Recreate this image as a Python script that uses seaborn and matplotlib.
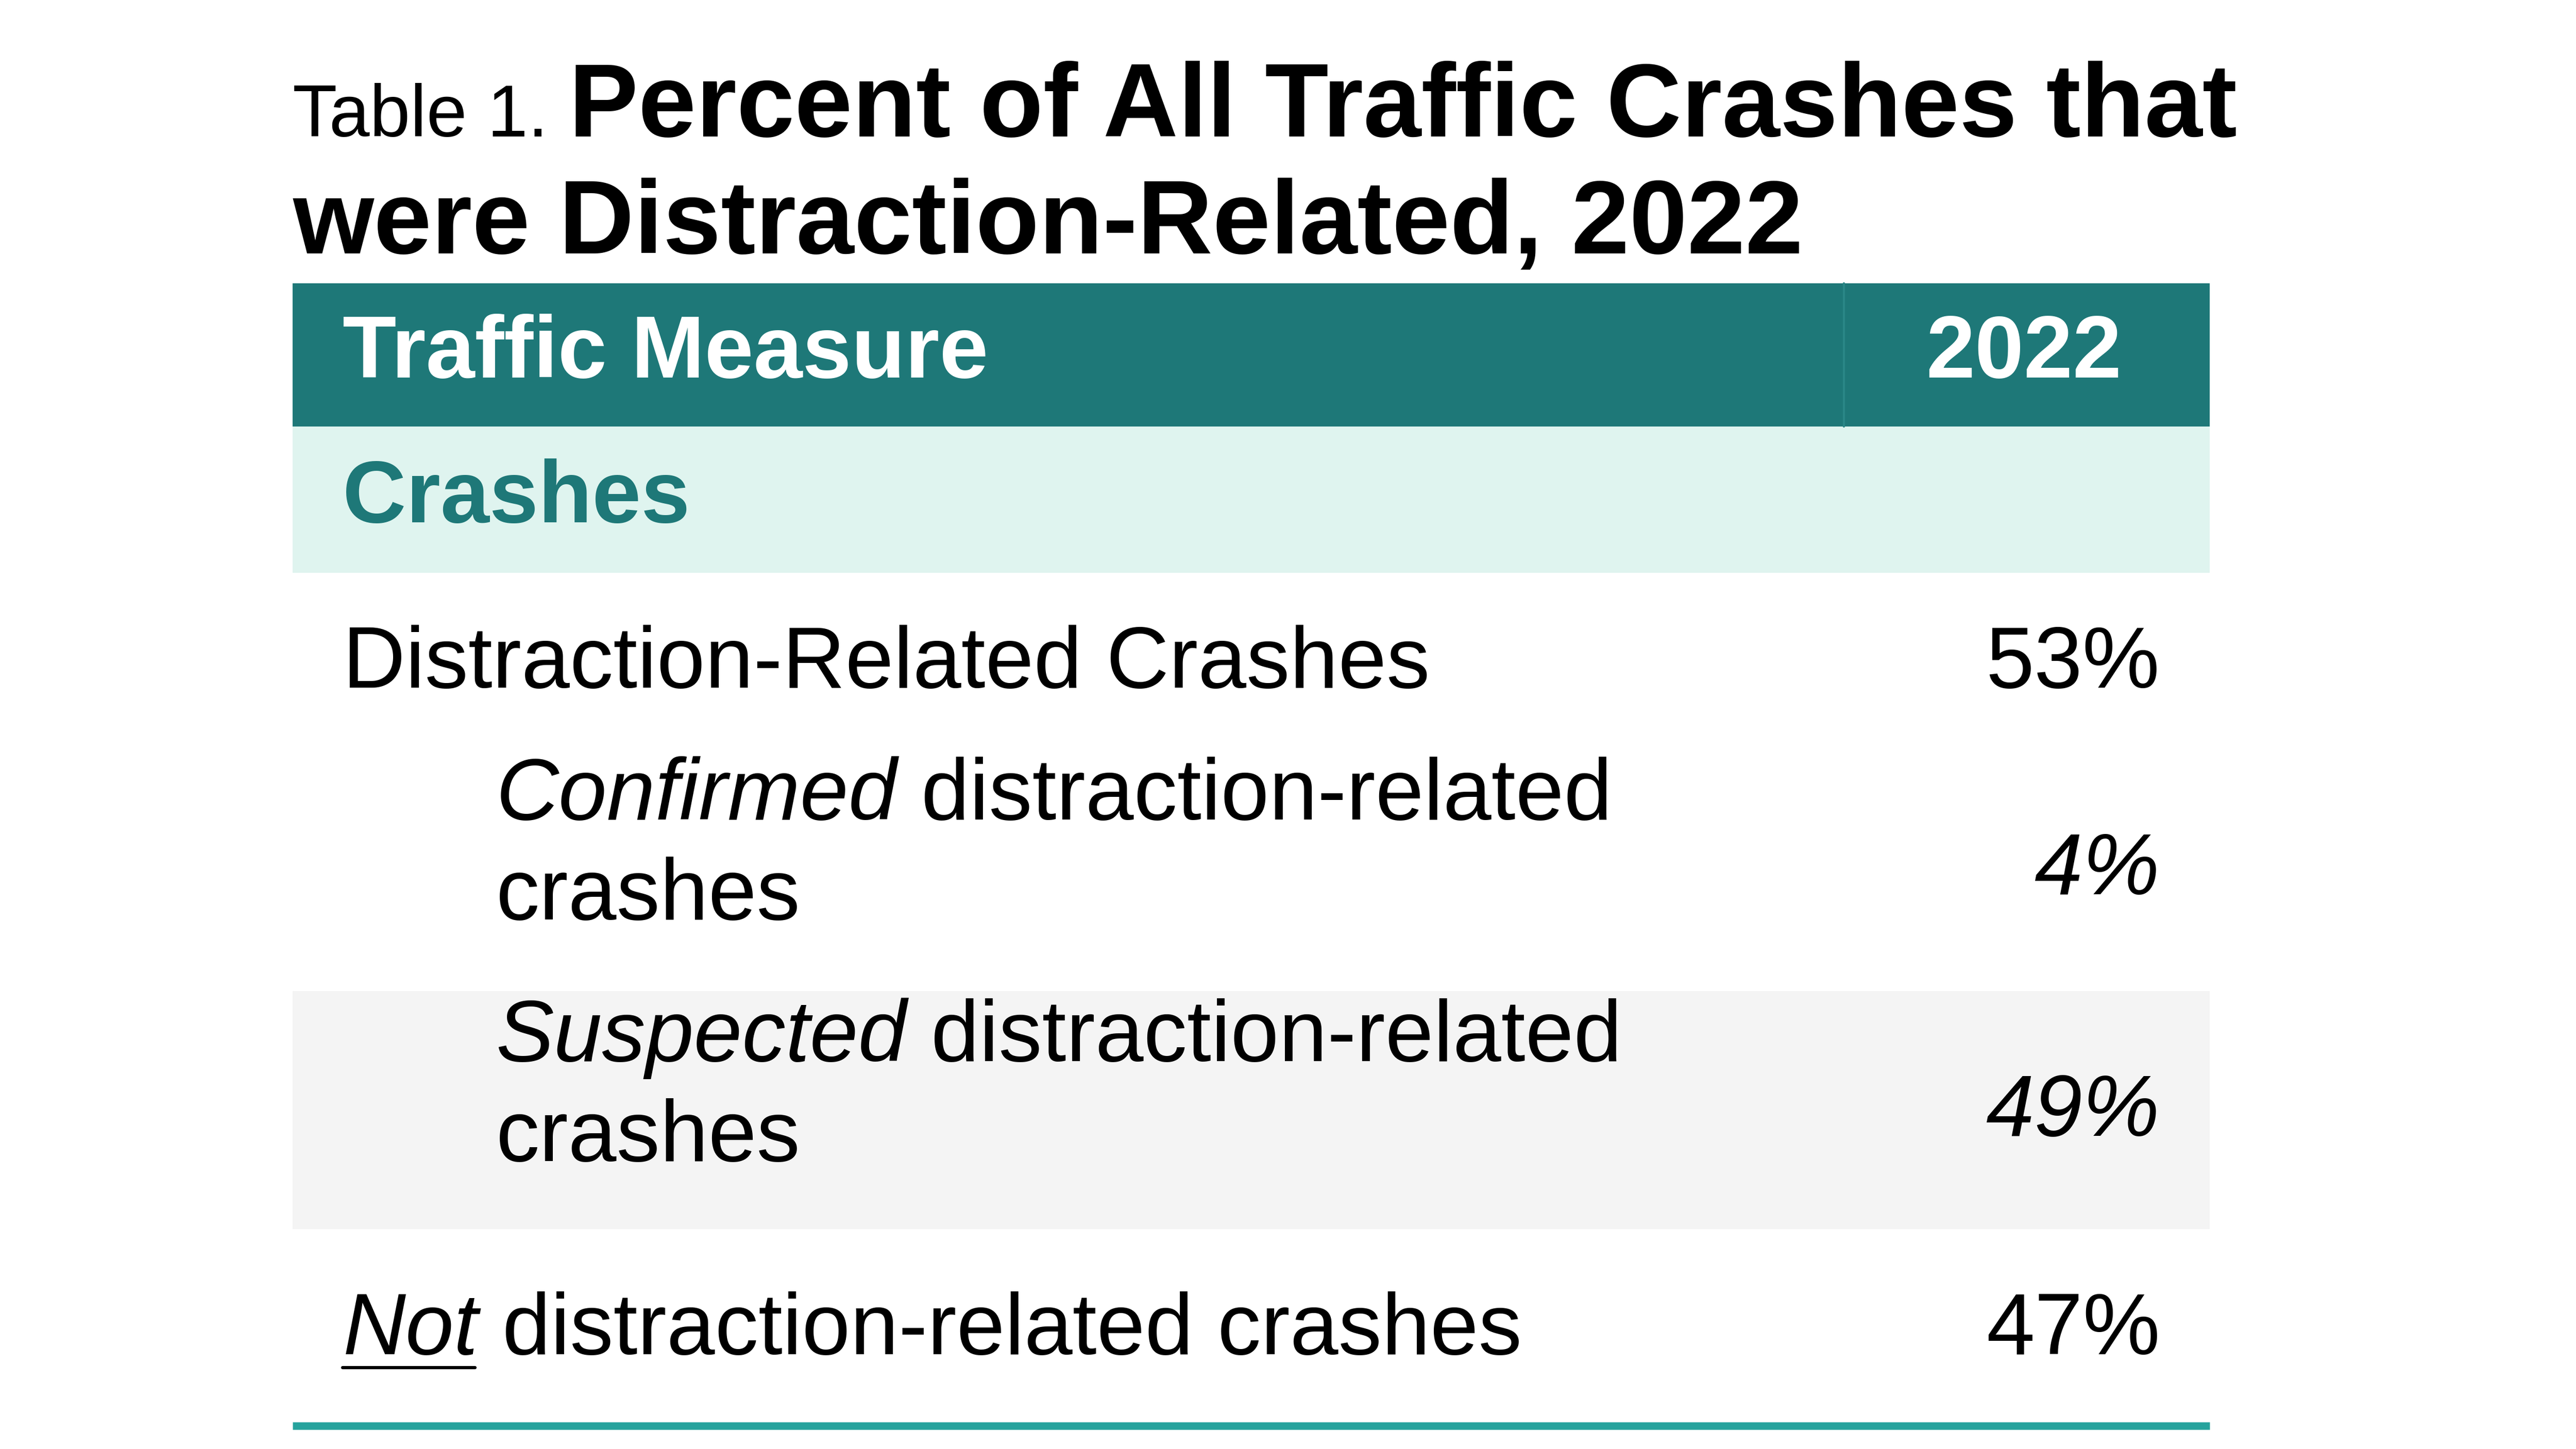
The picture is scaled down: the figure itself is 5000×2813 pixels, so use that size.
import matplotlib
matplotlib.use("Agg")
import matplotlib.pyplot as plt
import seaborn as sns

# dados da tabela
titulo_pre = "Table 1. "
titulo_l1 = "Percent of All Traffic Crashes that"
titulo_l2 = "were Distraction-Related, 2022"
cabecalho = ["Traffic Measure", "2022"]
secao = "Crashes"
linhas_ital = ["", "Confirmed", "Suspected", "Not"]
linhas_resto = ["Distraction-Related Crashes", " distraction-related\ncrashes",
                " distraction-related\ncrashes", " distraction-related crashes"]
valores = ["53%", "4%", "49%", "47%"]
valores_italico = [False, True, True, False]

sns.set_theme(style="white")
plt.rcParams['font.family'] = ['Liberation Sans', 'DejaVu Sans']
plt.rcParams['text.color'] = 'black'

W, H = 1548, 870
fig = plt.figure(figsize=(5000 / 300, 2813 / 300), dpi=300)
ax = fig.add_axes([0, 0, 1, 1])
ax.set_xlim(0, W)
ax.set_ylim(H, 0)
ax.axis("off")

esq, dir_, div = 176, 1328, 1108
verde = "#1E7878"
fs = 40.5

# titulo
t = ax.text(esq, 82, titulo_pre, fontsize=34, va="baseline", ha="left")
fig.canvas.draw()
inv = ax.transData.inverted()
x_fim = inv.transform(t.get_window_extent().get_points())[1][0]
ax.text(x_fim, 82, titulo_l1, fontsize=48.5, fontweight="bold", va="baseline")
ax.text(esq, 152, titulo_l2, fontsize=48.5, fontweight="bold", va="baseline")

# cabecalho
ax.add_patch(plt.Rectangle((esq, 170), dir_ - esq, 86, color=verde, lw=0))
ax.plot([div, div], [170, 256], color="#2A8686", lw=1)
ax.text(206, 213, cabecalho[0], fontsize=41, fontweight="bold", color="white", va="center")
ax.text(1275, 213, cabecalho[1], fontsize=41, fontweight="bold", color="white", va="center", ha="right")

# secao
ax.add_patch(plt.Rectangle((esq, 256), dir_ - esq, 88, color="#DFF4EF", lw=0))
ax.text(206, 300, secao, fontsize=41, fontweight="bold", color=verde, va="center")

# linhas
centros = [398, 522, 667, 798]
recuos = [206, 298, 298, 206]
ax.add_patch(plt.Rectangle((esq, 595), dir_ - esq, 143, color="#F4F4F4", lw=0))
for i in range(4):
    y = centros[i]
    x = recuos[i]
    partes = linhas_resto[i].split("\n")
    yb = y - 30 if len(partes) > 1 else y + 15
    if linhas_ital[i]:
        ti = ax.text(x, yb, linhas_ital[i], fontsize=fs, style="italic", va="baseline")
        fig.canvas.draw()
        bb = inv.transform(ti.get_window_extent().get_points())
        x2 = bb[1][0]
        ax.text(x2, yb, partes[0], fontsize=fs, va="baseline")
        if len(partes) > 1:
            ax.text(x, yb + 60, partes[1], fontsize=fs, va="baseline")
        if linhas_ital[i] == "Not":
            ax.plot([x, x2 - 2], [yb + 8, yb + 8], color="black", lw=1.5)
    else:
        ax.text(x, yb, linhas_resto[i], fontsize=fs, va="baseline")
    ax.text(1298, y + 15, valores[i], fontsize=fs, ha="right", va="baseline",
            style="italic" if valores_italico[i] else "normal")

ax.plot([esq, dir_], [856, 856], color="#26A39D", lw=3.5, solid_capstyle="butt")

fig.savefig("out.png", dpi=300)
